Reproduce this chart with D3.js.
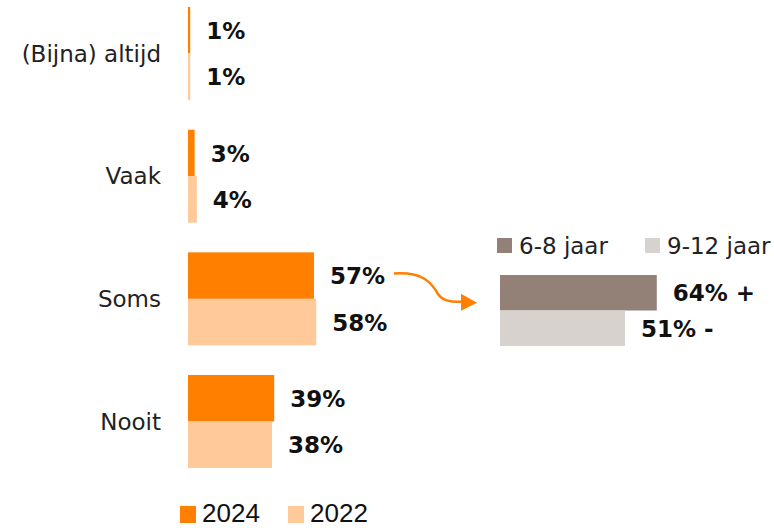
<!DOCTYPE html>
<html><head><meta charset="utf-8">
<script src="https://cdn.jsdelivr.net/npm/d3@7"></script>
<style>body{margin:0;background:#fff}svg{display:block}text{font-variant-ligatures:none}</style>
</head><body>
<script>
const categories = ["(Bijna) altijd", "Vaak", "Soms", "Nooit"];
const years = ["2024", "2022"];
const values2024 = [1, 3, 57, 39];
const values2022 = [1, 4, 58, 38];
const insetGroups = ["6-8 jaar", "9-12 jaar"];
const insetValues = [64, 51];
const insetMarks = ["+", "-"];

const W = 774, H = 528;
const colors = {"2024": "#FF7F00", "2022": "#FFC999"};
const insetColors = ["#938178", "#D7D2CE"];
const FONT = "'DejaVu Sans', sans-serif";

const svg = d3.select("body").append("svg").attr("width", W).attr("height", H)
  .style("font-family", FONT);

const x = d3.scaleLinear().domain([0, 100]).range([188, 409]);
const y = d3.scaleBand().domain(categories).range([7, 468]).paddingInner(0.242).paddingOuter(0);
const ySub = d3.scaleBand().domain(years).range([0, y.bandwidth()]);

const rows = categories.map((c, i) => ({c, vals: [{yr: "2024", v: values2024[i]}, {yr: "2022", v: values2022[i]}]}));

const g = svg.selectAll("g.cat").data(rows).join("g").attr("class", "cat")
  .attr("transform", d => `translate(0,${y(d.c)})`);

g.selectAll("rect").data(d => d.vals).join("rect")
  .attr("x", x(0)).attr("y", d => ySub(d.yr))
  .attr("width", d => x(d.v) - x(0)).attr("height", ySub.bandwidth())
  .attr("fill", d => colors[d.yr]);

g.selectAll("text.val").data(d => d.vals).join("text").attr("class", "val")
  .attr("x", d => x(d.v) + 16).attr("y", d => ySub(d.yr) + ySub.bandwidth() / 2)
  .attr("dy", "0.38em").attr("font-size", 23).attr("font-weight", "bold").attr("fill", "#111")
  .text(d => d.v + "%");

g.append("text").attr("x", 161).attr("y", y.bandwidth() / 2).attr("dy", "0.36em")
  .attr("text-anchor", "end").attr("font-size", 23).attr("fill", "#222")
  .text(d => d.c);

// bottom legend
const leg = svg.append("g");
const legX = [180, 288];
years.forEach((yr, i) => {
  leg.append("rect").attr("x", legX[i]).attr("y", 506).attr("width", 16).attr("height", 17).attr("fill", colors[yr]);
  leg.append("text").attr("x", legX[i] + 22).attr("y", 522).attr("font-size", 26)
    .attr("font-family", "'Liberation Sans', Arial, sans-serif").attr("fill", "#111").text(yr);
});

// inset
const xi = d3.scaleLinear().domain([0, 100]).range([500, 745]);
const yi = d3.scaleBand().domain(insetGroups).range([275, 346]);
svg.selectAll("rect.inset").data(insetGroups).join("rect").attr("class", "inset")
  .attr("x", xi(0)).attr("y", d => yi(d))
  .attr("width", (d, i) => xi(insetValues[i]) - xi(0)).attr("height", yi.bandwidth())
  .attr("fill", (d, i) => insetColors[i]);
svg.selectAll("text.insetval").data(insetGroups).join("text").attr("class", "insetval")
  .attr("x", (d, i) => xi(insetValues[i]) + 16).attr("y", d => yi(d) + yi.bandwidth() / 2)
  .attr("dy", "0.38em").attr("font-size", 23).attr("font-weight", "bold").attr("fill", "#111")
  .text((d, i) => insetValues[i] + "% " + insetMarks[i]);

const ilx = [497, 645];
insetGroups.forEach((gname, i) => {
  svg.append("rect").attr("x", ilx[i]).attr("y", 238).attr("width", 15).attr("height", 15).attr("fill", insetColors[i]);
  svg.append("text").attr("x", ilx[i] + 22).attr("y", 246).attr("dy", "0.36em").attr("font-size", 23)
    .attr("fill", "#222").text(gname);
});

// arrow
const sx = x(values2024[2]) + 80, sy = y("Soms") + ySub.bandwidth() / 2 - 2;
const ex = xi(0) - 38, ey = y("Soms") + ySub.bandwidth() + 3;
const p = d3.path();
p.moveTo(sx, sy);
p.bezierCurveTo(sx + 30, sy - 2, sx + 37, sy + 10, sx + 42, sy + 17);
p.bezierCurveTo(sx + 47, ey - 1, sx + 55, ey, ex, ey);
svg.append("path").attr("d", p.toString()).attr("fill", "none").attr("stroke", "#FF7F00").attr("stroke-width", 2.5);
svg.append("path").attr("d", `M${ex - 1},${ey - 8} L${ex + 15},${ey + 1} L${ex - 1},${ey + 9} Z`).attr("fill", "#FF7F00");
</script>
</body></html>
